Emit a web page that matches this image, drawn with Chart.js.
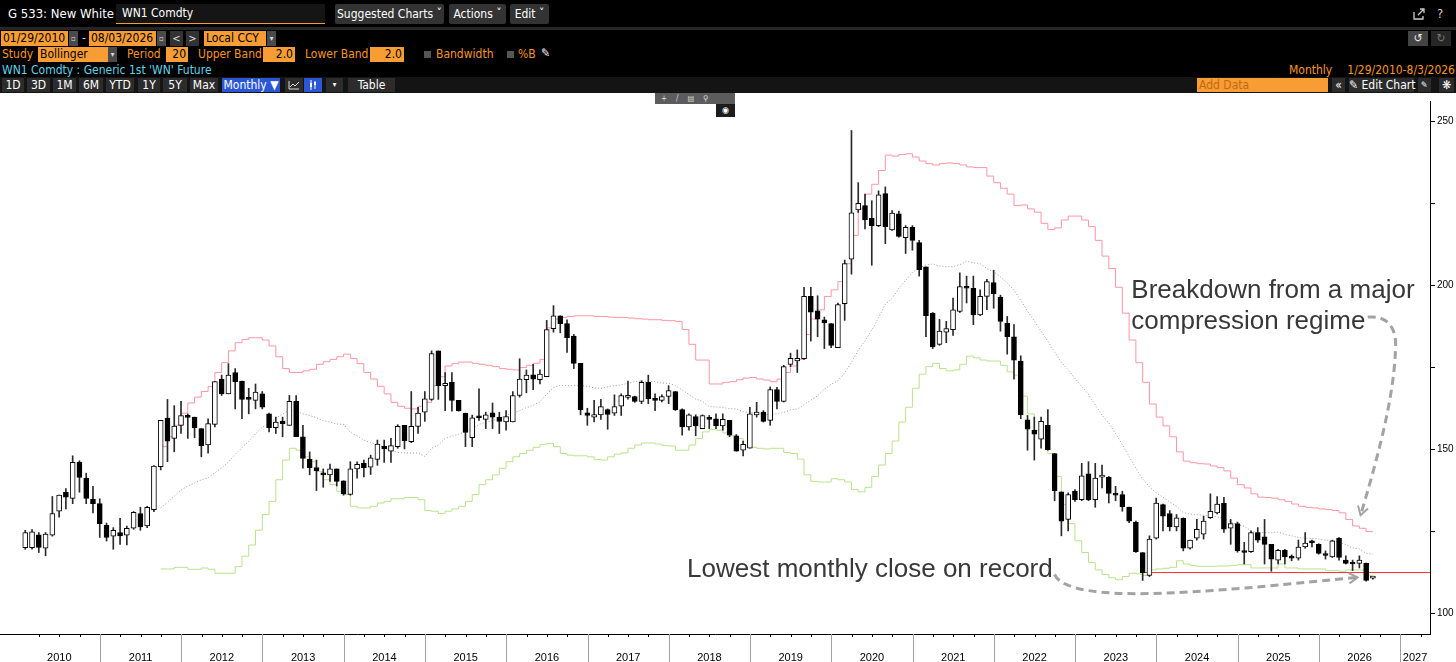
<!DOCTYPE html>
<html>
<head>
<meta charset="utf-8">
<title>G 533: New White</title>
<script src="https://cdn.jsdelivr.net/npm/chart.js@4.4.1/dist/chart.umd.min.js"></script>
<style>
  html, body { margin: 0; padding: 0; background: #000; }
  body { width: 1456px; height: 662px; overflow: hidden; position: relative;
         font-family: "Liberation Sans Narrow", "DejaVu Sans Condensed", "Liberation Sans", sans-serif;
         font-size: 12px; color: #fff; }
  .a { position: absolute; white-space: nowrap; line-height: 15px; }
  .btn { background: #333; color: #fff; height: 20px; line-height: 20px; text-align: center; border-radius: 2px; top: 4px; }
  .org { background: #f89d34; color: #000; height: 15px; line-height: 15px; padding-left: 2px; box-sizing: border-box; }
  .r { text-align: right; padding-right: 2px; }
  .lbl { color: #f7961f; }
  .dd { background: #4a4a4a; height: 15px; line-height: 15px; text-align: center; font-size: 8px; color: #ddd; }
  .tab { background: #2c2c2c; color: #fff; height: 14px; line-height: 14px; text-align: center; top: 78px; }
  .blue { background: #2b57d6; }
  .chk { width: 7px; height: 7px; background: #555; top: 51px; }
  #plot { position: absolute; left: 0; top: 93px; width: 1456px; height: 569px; background: #fff; }
  #mini1 { position: absolute; left: 655px; top: 93px; width: 80px; height: 11px; background: #5c5c5c;
           font-size: 8px; line-height: 11px; color: #ddd; letter-spacing: 9px; padding-left: 6px; box-sizing: border-box; }
  #mini2 { position: absolute; left: 716px; top: 104px; width: 19px; height: 13px; background: #1c1c1c;
           font-size: 9px; line-height: 13px; color: #fff; text-align: center; }
</style>
</head>
<body>
<!-- row 1 -->
<div class="a" style="left:8px;top:6px;font-size:13px;">G 533: New White</div>
<div class="a" style="left:116px;top:4px;width:209px;height:19px;background:#151515;border-bottom:1px solid #f39c33;">
  <span style="margin-left:6px;line-height:19px;">WN1 Comdty</span></div>
<div class="a btn" style="left:335px;width:109px;">Suggested Charts &#711;</div>
<div class="a btn" style="left:449px;width:57px;">Actions &#711;</div>
<div class="a btn" style="left:510px;width:39px;">Edit &#711;</div>
<svg class="a" style="left:1412px;top:7px;" width="14" height="14" viewBox="0 0 14 14">
  <path d="M2 5v7h9V9" fill="none" stroke="#ccc" stroke-width="1.3"/><path d="M6 8l6-6M8 2h4v4" fill="none" stroke="#ccc" stroke-width="1.3"/></svg>
<div class="a" style="left:1437px;top:6px;font-size:13px;color:#ccc;">?</div>
<div class="a" style="left:0;top:27px;width:1456px;height:3px;background:#262626;"></div>

<!-- row 2 -->
<div class="a org" style="left:1px;top:31px;width:67px;">01/29/2010</div>
<div class="a dd" style="left:69px;top:31px;width:9px;">&#9643;</div>
<div class="a" style="left:82px;top:31px;color:#ddd;">-</div>
<div class="a org" style="left:89px;top:31px;width:67px;">08/03/2026</div>
<div class="a dd" style="left:157px;top:31px;width:9px;">&#9643;</div>
<div class="a dd" style="left:170px;top:31px;width:13px;font-size:11px;background:#333;">&lt;</div>
<div class="a dd" style="left:186px;top:31px;width:13px;font-size:11px;background:#333;">&gt;</div>
<div class="a org" style="left:204px;top:31px;width:62px;">Local CCY</div>
<div class="a dd" style="left:267px;top:31px;width:9px;">&#9662;</div>
<div class="a dd" style="left:1408px;top:31px;width:20px;font-size:12px;background:#444;color:#eee;">&#8634;</div>
<div class="a dd" style="left:1431px;top:31px;width:20px;font-size:12px;background:#262626;color:#777;">&#8635;</div>

<!-- row 3 -->
<div class="a lbl" style="left:2px;top:47px;">Study</div>
<div class="a org" style="left:38px;top:47px;width:70px;">Bollinger</div>
<div class="a dd" style="left:108px;top:47px;width:9px;">&#9662;</div>
<div class="a lbl" style="left:127px;top:47px;">Period</div>
<div class="a org r" style="left:166px;top:47px;width:22px;">20</div>
<div class="a lbl" style="left:198px;top:47px;">Upper Band</div>
<div class="a org r" style="left:263px;top:47px;width:32px;">2.0</div>
<div class="a lbl" style="left:305px;top:47px;">Lower Band</div>
<div class="a org r" style="left:370px;top:47px;width:34px;">2.0</div>
<div class="a chk" style="left:424px;"></div>
<div class="a lbl" style="left:436px;top:47px;">Bandwidth</div>
<div class="a chk" style="left:507px;"></div>
<div class="a lbl" style="left:518px;top:47px;">%B</div>
<div class="a" style="left:541px;top:46px;">&#9998;</div>

<!-- row 4 -->
<div class="a" style="left:2px;top:63px;color:#5fd4e8;">WN1 Comdty : Generic 1st 'WN' Future</div>
<div class="a lbl" style="left:1289px;top:63px;">Monthly</div>
<div class="a lbl" style="right:1px;top:63px;">1/29/2010-8/3/2026</div>

<!-- row 5 -->
<div class="a" style="left:0;top:77px;width:1456px;height:16px;background:#141414;"></div>
<div class="a tab" style="left:2px;width:22px;">1D</div>
<div class="a tab" style="left:27px;width:23px;">3D</div>
<div class="a tab" style="left:53px;width:23px;">1M</div>
<div class="a tab" style="left:79px;width:24px;">6M</div>
<div class="a tab" style="left:106px;width:28px;">YTD</div>
<div class="a tab" style="left:138px;width:22px;">1Y</div>
<div class="a tab" style="left:163px;width:24px;">5Y</div>
<div class="a tab" style="left:190px;width:28px;">Max</div>
<div class="a tab blue" style="left:222px;width:58px;">Monthly &#9660;</div>
<div class="a tab" style="left:285px;width:18px;">
  <svg width="12" height="10" viewBox="0 0 12 10" style="margin-top:2px"><path d="M1 1v8h10M2 7l3-3 2 2 4-4" fill="none" stroke="#ddd" stroke-width="1"/></svg></div>
<div class="a tab blue" style="left:304px;width:18px;">
  <svg width="10" height="10" viewBox="0 0 10 10" style="margin-top:2px"><path d="M3 0v10M7 1v8" stroke="#fff" stroke-width="1"/><rect x="2" y="3" width="2" height="4" fill="#fff"/><rect x="6" y="2" width="2" height="3" fill="#fff"/></svg></div>
<div class="a tab" style="left:326px;width:17px;font-size:8px;">&#9662;</div>
<div class="a tab" style="left:348px;width:47px;">Table</div>
<div class="a org" style="left:1197px;top:78px;width:131px;height:14px;line-height:14px;color:#c06a14;">Add Data</div>
<div class="a tab" style="left:1332px;width:13px;">&#171;</div>
<div class="a tab" style="left:1349px;width:65px;">&#9998; Edit Chart</div>
<div class="a tab" style="left:1418px;width:13px;font-size:9px;">&#9998;</div>
<div class="a tab" style="left:1439px;width:15px;">&#10059;</div>

<div id="plot"><canvas id="chart"></canvas></div>
<div id="mini1">+/&#9636;&#9906;</div>
<div id="mini2">&#9673;</div>

<script>
// WN1 Comdty, monthly candles Jan 2010 .. Aug 2026 (12 per row, one row per year)
const startYear = 2010;

const opens = [
  120.0, 120.0, 123.9, 119.8, 123.8, 131.1, 136.9, 135.0, 146.0, 141.2, 134.7, 133.4,
  126.8, 123.5, 124.6, 123.8, 125.9, 130.4, 126.6, 131.6, 144.7, 159.5, 153.3, 157.3,
  160.1, 159.8, 156.3, 151.3, 157.6, 171.4, 166.9, 173.4, 170.8, 165.6, 164.9, 166.9,
  160.8, 156.6, 158.6, 157.3, 164.6, 153.8, 147.0, 144.4, 142.7, 142.2, 144.0, 140.4,
  136.2, 144.0, 145.7, 144.5, 146.9, 150.9, 149.4, 150.8, 157.3, 152.3, 157.0, 161.3,
  165.2, 180.0, 169.4, 170.4, 164.9, 161.0, 153.5, 160.1, 159.1, 161.1, 159.8, 158.3,
  158.3, 166.4, 171.2, 172.7, 171.2, 172.1, 186.8, 190.7, 188.3, 184.5, 176.2, 161.1,
  159.8, 160.5, 162.1, 161.0, 163.1, 165.8, 166.1, 164.6, 170.4, 165.4, 164.9, 166.1,
  167.6, 162.1, 156.8, 160.0, 156.3, 159.5, 159.3, 157.1, 158.8, 154.1, 149.7, 150.3,
  160.5, 161.3, 158.8, 168.2, 164.6, 175.9, 176.9, 177.6, 196.6, 192.2, 189.5, 188.3,
  181.0, 194.4, 208.0, 223.0, 224.3, 220.4, 218.2, 228.0, 216.9, 221.8, 214.5, 217.7,
  213.0, 205.6, 191.5, 182.0, 185.7, 186.5, 192.0, 199.6, 199.1, 191.0, 196.6, 200.8,
  196.4, 188.5, 184.3, 176.9, 159.0, 155.8, 153.1, 157.3, 148.7, 137.0, 128.6, 137.2,
  134.6, 142.5, 134.6, 141.5, 141.4, 136.4, 136.2, 132.4, 127.8, 118.5, 111.5, 122.9,
  133.1, 130.4, 126.3, 128.9, 119.8, 122.9, 124.1, 129.1, 130.6, 133.6, 125.9, 127.3,
  119.0, 118.8, 124.6, 123.3, 121.0, 116.2, 119.2, 117.2, 116.8, 120.2, 121.9, 121.0,
  117.8, 117.2, 122.9, 116.2, 115.2, 115.2, 115.3, 110.7
];
const highs = [
  125.3, 125.5, 124.6, 124.6, 135.6, 136.0, 138.0, 148.0, 146.5, 142.7, 138.7, 134.9,
  127.5, 126.1, 128.9, 126.6, 131.0, 132.3, 132.6, 145.0, 158.8, 165.2, 163.3, 164.6,
  160.8, 159.8, 156.3, 159.3, 170.6, 172.6, 176.1, 174.6, 170.8, 168.6, 169.9, 167.6,
  161.0, 159.8, 159.8, 166.4, 166.4, 157.3, 149.2, 146.7, 144.0, 145.5, 144.0, 140.4,
  146.2, 146.2, 146.7, 148.2, 152.8, 152.8, 153.3, 157.5, 157.3, 167.6, 162.8, 167.6,
  180.0, 180.0, 173.4, 173.4, 164.9, 161.0, 160.4, 168.4, 161.3, 164.1, 161.3, 161.8,
  167.6, 177.6, 174.2, 175.9, 174.2, 189.3, 193.8, 190.7, 189.5, 185.0, 176.2, 162.5,
  164.9, 165.2, 162.3, 166.6, 166.9, 170.8, 166.2, 170.9, 172.6, 166.9, 166.6, 169.4,
  167.6, 162.3, 160.8, 160.5, 160.5, 160.3, 160.8, 160.8, 158.8, 154.5, 152.5, 162.8,
  164.3, 161.8, 169.0, 168.9, 175.6, 179.3, 180.3, 199.4, 199.4, 196.8, 190.3, 188.3,
  194.6, 207.7, 247.2, 231.3, 227.8, 225.8, 228.8, 230.0, 222.8, 222.6, 218.2, 218.2,
  213.7, 205.6, 191.7, 189.6, 189.0, 196.1, 203.8, 202.8, 202.8, 198.6, 201.8, 204.6,
  197.0, 190.5, 188.0, 178.5, 160.3, 159.8, 159.8, 162.1, 148.7, 137.0, 136.7, 137.7,
  145.7, 146.2, 145.7, 145.2, 141.7, 138.7, 137.2, 132.4, 128.1, 118.5, 123.6, 135.1,
  133.3, 131.3, 130.1, 129.1, 122.3, 128.6, 129.6, 136.4, 135.6, 135.3, 128.6, 127.8,
  121.6, 125.1, 126.1, 128.6, 121.0, 119.5, 119.5, 117.8, 122.3, 124.6, 122.3, 121.2,
  119.0, 122.3, 123.1, 117.5, 116.2, 117.5, 115.3, 110.9
];
const lows = [
  119.5, 119.5, 118.5, 117.5, 123.5, 129.3, 131.8, 133.4, 136.9, 133.4, 130.6, 123.1,
  122.0, 119.5, 121.0, 120.8, 125.6, 125.3, 126.1, 131.0, 143.7, 146.2, 149.2, 154.8,
  153.3, 153.5, 147.7, 148.8, 156.8, 166.4, 166.9, 162.3, 159.3, 160.8, 162.3, 162.3,
  155.3, 154.8, 153.8, 157.3, 153.8, 144.2, 142.2, 137.4, 138.4, 140.2, 138.8, 136.0,
  136.0, 141.2, 141.6, 142.3, 145.1, 146.0, 146.0, 150.3, 150.1, 152.0, 154.8, 158.5,
  164.9, 165.2, 161.8, 161.6, 161.6, 150.8, 150.8, 158.8, 156.3, 156.3, 154.8, 155.8,
  158.3, 165.9, 167.2, 168.2, 169.9, 172.1, 185.7, 185.5, 179.5, 174.6, 160.5, 157.3,
  158.3, 159.1, 156.1, 160.3, 160.3, 165.3, 164.3, 163.9, 163.9, 161.8, 164.4, 163.9,
  161.8, 154.3, 155.8, 154.1, 156.3, 156.3, 156.3, 155.8, 153.8, 149.4, 148.0, 150.3,
  159.8, 158.3, 157.3, 162.3, 164.4, 175.2, 173.4, 177.4, 183.0, 184.3, 180.7, 181.0,
  181.0, 189.3, 203.4, 222.2, 217.2, 206.1, 217.9, 212.7, 216.7, 214.7, 209.7, 210.7,
  202.8, 184.3, 180.7, 181.7, 182.5, 184.7, 191.7, 194.6, 188.0, 190.7, 192.6, 193.0,
  186.0, 179.0, 171.4, 159.3, 149.7, 146.7, 150.3, 149.7, 134.3, 123.6, 125.1, 134.1,
  134.3, 134.3, 132.3, 138.2, 133.6, 134.3, 131.1, 127.6, 118.5, 110.0, 111.2, 122.6,
  125.1, 125.1, 125.1, 119.0, 119.5, 122.3, 122.6, 128.9, 130.3, 124.6, 121.0, 118.6,
  115.0, 118.5, 121.6, 115.0, 112.8, 115.0, 115.0, 116.0, 116.2, 119.8, 120.2, 118.0,
  116.5, 117.0, 116.2, 115.0, 113.0, 113.8, 109.8, 110.4
];
const closes = [
  124.6, 124.8, 120.1, 124.1, 130.4, 136.0, 135.4, 146.0, 141.4, 135.0, 133.4, 127.3,
  123.1, 125.3, 123.6, 125.9, 130.8, 126.3, 132.3, 144.9, 158.8, 152.5, 157.1, 160.3,
  159.7, 156.5, 151.1, 157.8, 170.6, 166.9, 172.6, 170.6, 165.2, 165.2, 167.4, 162.8,
  156.6, 158.3, 157.8, 164.6, 153.8, 147.2, 144.4, 143.4, 142.2, 144.0, 140.2, 136.4,
  144.0, 145.4, 144.4, 147.4, 151.6, 150.1, 151.1, 157.0, 152.6, 157.0, 161.0, 165.4,
  179.2, 169.4, 170.1, 164.9, 161.8, 155.1, 159.6, 159.6, 160.5, 159.8, 158.5, 160.0,
  166.4, 171.4, 172.6, 171.4, 172.9, 186.5, 190.7, 188.3, 184.0, 176.2, 162.0, 160.3,
  160.6, 163.0, 160.6, 163.0, 166.4, 166.0, 164.6, 170.4, 165.4, 164.9, 166.1, 167.9,
  162.1, 156.8, 160.5, 157.1, 160.3, 159.1, 157.1, 159.1, 154.3, 149.4, 151.5, 160.8,
  161.3, 158.5, 168.2, 164.6, 175.2, 177.7, 177.7, 196.6, 191.8, 189.7, 188.5, 181.7,
  194.1, 206.6, 222.1, 225.0, 219.9, 218.2, 227.6, 217.9, 222.0, 214.9, 217.7, 213.7,
  204.8, 190.7, 181.2, 186.0, 186.8, 192.5, 199.6, 199.1, 191.0, 196.6, 201.1, 197.4,
  189.0, 184.3, 177.2, 160.5, 156.1, 154.6, 158.5, 149.9, 137.4, 128.1, 136.2, 134.6,
  141.9, 134.6, 141.2, 141.8, 136.5, 136.0, 132.4, 128.1, 118.8, 112.4, 122.6, 133.6,
  129.6, 126.3, 129.1, 119.8, 122.3, 125.6, 128.1, 131.1, 133.3, 125.6, 127.3, 119.0,
  118.5, 124.6, 122.3, 121.0, 116.5, 119.2, 117.2, 116.8, 120.2, 121.4, 121.5, 118.2,
  117.6, 122.1, 117.0, 115.2, 115.0, 116.2, 110.0, 110.7
];

// Bollinger (20, 2.0) as drawn, first value Sep 2011
const bandFrom = 20;
const upperBand = [
                              150.8, 153.8, 157.3, 161.0,
  164.1, 165.9, 167.6, 169.1, 173.4, 176.4, 180.0, 182.5, 183.5, 184.0, 184.0, 183.3,
  181.5, 178.2, 174.6, 173.4, 173.4, 173.9, 174.4, 175.9, 176.7, 177.4, 178.2, 179.0,
  177.7, 176.1, 173.4, 171.4, 169.2, 166.9, 164.3, 163.1, 162.5, 162.3, 163.1, 164.3,
  169.4, 172.1, 175.4, 176.1, 176.6, 176.6, 176.2, 175.9, 175.6, 175.2, 174.6, 174.4,
  174.2, 174.9, 175.6, 176.2, 177.4, 187.0, 189.7, 190.2, 190.5, 190.7, 190.7, 190.7,
  190.5, 190.5, 190.3, 190.2, 190.2, 190.0, 189.8, 189.7, 189.5, 189.5, 189.3, 189.2,
  189.0, 186.5, 182.0, 177.2, 177.2, 169.9, 169.9, 170.4, 170.6, 171.2, 171.7, 171.9,
  171.4, 171.1, 170.6, 171.4, 173.4, 175.4, 177.4, 185.0, 189.7, 192.5, 196.6, 198.6,
  201.1, 206.6, 215.2, 223.3, 227.8, 230.8, 235.0, 239.7, 239.4, 239.9, 240.1, 239.1,
  237.9, 237.1, 236.7, 237.1, 237.3, 237.1, 236.7, 236.1, 235.9, 235.9, 233.3, 231.3,
  229.6, 227.8, 224.3, 224.5, 223.3, 222.3, 218.9, 217.0, 217.5, 219.9, 221.1, 221.1,
  219.9, 217.9, 213.7, 208.9, 205.1, 199.4, 191.5, 183.3, 176.4, 170.4, 163.8, 159.8,
  157.1, 153.8, 149.2, 146.4, 145.9, 145.6, 145.5, 144.9, 144.4, 143.4, 141.2, 139.2,
  138.2, 136.4, 135.4, 135.3, 135.1, 134.6, 134.1, 133.3, 132.6, 132.3, 132.1, 131.8,
  131.6, 131.3, 130.6, 128.6, 126.6, 125.9, 124.9, 124.9
];
const middleBand = [
                              132.2, 133.7, 135.7, 137.5,
  138.8, 139.7, 140.7, 141.3, 142.8, 144.3, 146.1, 148.4, 150.5, 152.4, 154.7, 156.7,
  157.8, 159.5, 160.7, 161.9, 161.6, 160.8, 160.3, 159.6, 158.7, 158.3, 157.7, 157.6,
  155.2, 154.1, 152.8, 152.0, 151.4, 150.5, 149.6, 149.0, 148.9, 148.8, 148.9, 147.8,
  150.3, 151.3, 153.3, 154.0, 154.6, 155.4, 156.2, 157.6, 158.2, 158.7, 159.4, 160.3,
  161.0, 161.8, 162.7, 163.4, 164.5, 166.8, 168.8, 169.5, 169.4, 169.4, 169.4, 169.2,
  168.7, 168.6, 169.0, 169.4, 169.6, 170.2, 170.6, 170.8, 170.7, 170.6, 170.2, 170.1,
  169.4, 168.1, 166.7, 165.3, 164.6, 163.0, 162.9, 162.7, 162.4, 162.3, 161.4, 161.3,
  160.9, 160.6, 160.5, 160.9, 161.2, 162.1, 162.2, 163.6, 165.0, 166.3, 168.3, 169.8,
  170.9, 173.3, 176.5, 180.2, 183.1, 186.3, 190.1, 194.2, 196.0, 199.1, 201.5, 203.9,
  205.4, 206.2, 206.5, 205.9, 205.6, 205.7, 206.3, 207.3, 206.9, 206.6, 205.1, 204.1,
  202.6, 200.7, 198.5, 195.4, 192.1, 189.1, 186.0, 182.9, 179.6, 176.5, 174.2, 171.6,
  169.2, 166.7, 163.5, 160.4, 158.0, 154.8, 151.4, 147.8, 144.2, 141.0, 138.5, 136.7,
  135.4, 133.9, 132.6, 130.7, 130.2, 130.0, 129.9, 129.6, 129.4, 128.9, 127.9, 127.0,
  126.5, 125.1, 124.6, 124.6, 124.5, 124.8, 124.0, 123.6, 123.1, 122.9, 122.8, 122.7,
  122.3, 122.2, 121.7, 120.9, 119.9, 119.6, 118.3, 118.0
];
const lowerBand = [
                              113.5, 113.5, 114.0, 114.0,
  113.4, 113.4, 113.8, 113.4, 112.2, 112.2, 112.2, 114.2, 117.4, 120.8, 125.3, 130.1,
  134.1, 140.7, 146.7, 150.3, 149.7, 147.7, 146.2, 143.2, 140.7, 139.2, 137.2, 136.2,
  132.6, 132.1, 132.1, 132.6, 133.6, 134.1, 134.9, 134.9, 135.3, 135.3, 134.6, 131.3,
  131.1, 130.4, 131.1, 131.8, 132.6, 134.1, 136.2, 139.2, 140.7, 142.2, 144.2, 146.2,
  147.7, 148.7, 149.7, 150.6, 151.5, 151.8, 150.8, 148.7, 148.2, 148.0, 148.0, 147.7,
  146.9, 146.7, 147.7, 148.5, 148.9, 150.3, 151.3, 151.9, 151.9, 151.6, 151.1, 151.0,
  149.7, 149.7, 151.3, 153.3, 155.3, 156.1, 155.8, 155.0, 154.1, 153.3, 151.0, 150.6,
  150.3, 150.1, 150.3, 150.3, 149.0, 148.7, 147.0, 142.2, 140.2, 140.0, 140.0, 141.0,
  140.7, 140.0, 137.7, 137.0, 138.4, 141.7, 145.2, 148.7, 152.5, 158.3, 162.8, 168.6,
  172.9, 175.2, 176.2, 174.6, 173.9, 174.2, 175.9, 178.4, 177.9, 177.2, 176.9, 176.9,
  175.6, 173.6, 172.6, 166.2, 160.8, 155.8, 153.1, 148.7, 141.7, 133.1, 127.3, 122.1,
  118.5, 115.5, 113.2, 111.8, 110.8, 110.2, 111.2, 112.2, 112.0, 111.5, 113.2, 113.5,
  113.7, 114.0, 116.0, 115.0, 114.5, 114.3, 114.3, 114.3, 114.4, 114.4, 114.6, 114.8,
  114.8, 113.8, 113.8, 113.8, 113.8, 115.0, 113.8, 113.8, 113.5, 113.5, 113.5, 113.5,
  113.0, 113.0, 112.8, 113.2, 113.2, 113.2, 111.6, 111.0
];

// previous record low monthly close (Oct 2023)
const recordIndex = 165;

const yearLabels = ['2010', '2011', '2012', '2013', '2014', '2015', '2016', '2017', '2018',
                    '2019', '2020', '2021', '2022', '2023', '2024', '2025', '2026', '2027'];
const priceTicks = [100, 125, 150, 175, 200, 225, 250];

// x axis is in months since Jan 2010; candles sit at month end
const xMin = -2.76;
const xMax = 208.4;
const monthPos = i => i + 0.97;

// callouts, in (month, price) units
const notes = [
  { lines: ['Breakdown from a major', 'compression regime'], at: [164.3, 196.1], gap: 9.4 },
  { lines: ['Lowest monthly close on record'], at: [98.7, 110.9], gap: 0 }
];
const arrows = [
  [[199.2, 190.3], [202.0, 190.9], [203.6, 187.3], [203.3, 180.1],
   [203.0, 164.4], [200.4, 145.6], [198.15, 129.9]],
  [[152.95, 111.8], [154.1, 107.0], [159.7, 105.7], [167.1, 106.0],
   [179.0, 106.7], [189.3, 109.4], [197.7, 110.9]]
];

const candleIdx = closes.map((c, i) => i);
const bandPoints = arr => arr.map((v, k) => ({ x: monthPos(bandFrom + k), y: v }));

const yearMarks = {
  id: 'yearMarks',
  afterDraw(chart) {
    const { ctx, chartArea, scales: { x } } = chart;
    ctx.save();
    ctx.lineWidth = 1;
    for (let m = 0; m <= xMax; m += 3) {
      const p = Math.round(x.getPixelForValue(m)) + 0.5;
      ctx.beginPath();
      if (m % 12 === 0) {
        if (m === 0) continue;
        ctx.strokeStyle = '#a0a0a0';
        ctx.moveTo(p, chartArea.bottom);
        ctx.lineTo(p, chart.height);
      } else {
        ctx.strokeStyle = '#000';
        ctx.moveTo(p, chartArea.bottom);
        ctx.lineTo(p, chartArea.bottom + 3);
      }
      ctx.stroke();
    }
    ctx.restore();
  }
};

const callouts = {
  id: 'callouts',
  afterDatasetsDraw(chart) {
    const { ctx, scales: { x, y } } = chart;
    const px = p => [x.getPixelForValue(p[0]), y.getPixelForValue(p[1])];
    ctx.save();
    ctx.font = '26px "Liberation Sans", Arial, sans-serif';
    ctx.fillStyle = '#383838';
    ctx.textBaseline = 'alphabetic';
    notes.forEach(n => n.lines.forEach((t, i) => {
      const [tx, ty] = px([n.at[0], n.at[1] - i * n.gap]);
      ctx.fillText(t, tx, ty);
    }));
    ctx.strokeStyle = '#a3a3a3';
    arrows.forEach(a => {
      ctx.lineWidth = 3;
      ctx.setLineDash([8, 5]);
      ctx.beginPath();
      ctx.moveTo(...px(a[0]));
      for (let i = 1; i + 2 < a.length; i += 3) {
        ctx.bezierCurveTo(...px(a[i]), ...px(a[i + 1]), ...px(a[i + 2]));
      }
      ctx.stroke();
      const tip = px(a[a.length - 1]);
      const from = px(a[a.length - 2]);
      const ang = Math.atan2(tip[1] - from[1], tip[0] - from[0]);
      ctx.setLineDash([]);
      ctx.lineWidth = 2;
      ctx.beginPath();
      ctx.moveTo(tip[0] - 10 * Math.cos(ang - 0.55), tip[1] - 10 * Math.sin(ang - 0.55));
      ctx.lineTo(tip[0], tip[1]);
      ctx.lineTo(tip[0] - 10 * Math.cos(ang + 0.55), tip[1] - 10 * Math.sin(ang + 0.55));
      ctx.stroke();
    });
    ctx.restore();
  }
};

new Chart(document.getElementById('chart'), {
  type: 'bar',
  data: {
    datasets: [
      {
        type: 'line', label: 'Upper band', data: bandPoints(upperBand), stepped: true,
        borderColor: '#ff95a4', borderWidth: 1, pointRadius: 0, fill: false, order: 4
      },
      {
        type: 'line', label: 'Lower band', data: bandPoints(lowerBand), stepped: true,
        borderColor: '#b9e38c', borderWidth: 1, pointRadius: 0, fill: false, order: 4
      },
      {
        type: 'line', label: 'Middle', data: bandPoints(middleBand),
        borderColor: '#9c9c9c', borderWidth: 1, borderDash: [1, 2], pointRadius: 0, fill: false, order: 3
      },
      {
        type: 'line', label: 'Record low',
        data: [{ x: monthPos(recordIndex), y: closes[recordIndex] }, { x: xMax, y: closes[recordIndex] }],
        borderColor: '#ff2a2a', borderWidth: 1, pointRadius: 0, fill: false, order: 2
      },
      {
        label: 'Range', data: candleIdx.map(i => ({ x: monthPos(i), y: [lows[i], highs[i]] })),
        backgroundColor: '#2a2a2a', borderWidth: 0, barThickness: 1, grouped: false, order: 1
      },
      {
        label: 'Body', data: candleIdx.map(i => ({ x: monthPos(i), y: [opens[i], closes[i]] })),
        backgroundColor: candleIdx.map(i => closes[i] >= opens[i] ? '#ffffff' : '#000000'),
        borderColor: '#000', borderWidth: 1, borderSkipped: false, minBarLength: 2,
        barThickness: 5, grouped: false, order: 0
      }
    ]
  },
  options: {
    responsive: true,
    maintainAspectRatio: false,
    animation: false,
    layout: { padding: { top: 3, left: 0, right: 0, bottom: 0 } },
    plugins: { legend: { display: false }, tooltip: { enabled: false } },
    scales: {
      x: {
        type: 'linear', min: xMin, max: xMax, offset: false,
        grid: { display: false },
        border: { display: true, color: '#000', width: 1 },
        afterBuildTicks: s => {
          s.ticks = yearLabels.map((t, k) => ({ value: k < 17 ? k * 12 + 6 : (k * 12 + xMax) / 2 }));
        },
        afterFit: s => { s.height = 28; },
        ticks: {
          autoSkip: false, maxRotation: 0, padding: 9, color: '#000',
          font: { family: '"Liberation Sans Narrow", "Liberation Sans", Arial', size: 11 },
          callback: (v, i) => yearLabels[i]
        }
      },
      y: {
        type: 'linear', position: 'right', min: 93.66, max: 256.2,
        grid: { display: true, drawOnChartArea: false, drawTicks: true, tickLength: 5, color: '#000' },
        border: { display: true, color: '#000', width: 1 },
        afterBuildTicks: s => { s.ticks = priceTicks.map(v => ({ value: v })); },
        afterFit: s => { s.width = 26; },
        ticks: {
          padding: 2, color: '#000',
          font: { family: '"Liberation Sans", Arial', size: 10 },
          callback: v => (v % 50 === 0 ? String(v) : '')
        }
      }
    }
  },
  plugins: [yearMarks, callouts]
});
</script>
</body>
</html>
